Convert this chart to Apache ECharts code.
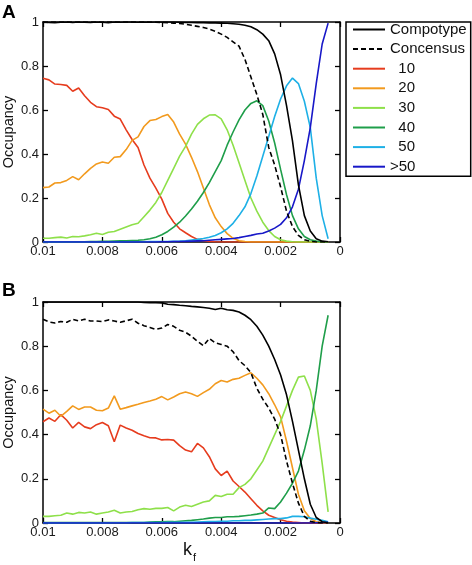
<!DOCTYPE html>
<html><head><meta charset="utf-8">
<script src="https://cdn.jsdelivr.net/npm/echarts@6/dist/echarts.min.js"></script>
<style>html,body{margin:0;padding:0;background:#fff}#c{width:472px;height:565px}</style>
</head><body><div id="c"></div>
<script>
// ---- data ----
const xs = [0.0100,0.0098,0.0096,0.0094,0.0092,0.0090,0.0088,0.0086,0.0084,0.0082,
            0.0080,0.0078,0.0076,0.0074,0.0072,0.0070,0.0068,0.0066,0.0064,0.0062,
            0.0060,0.0058,0.0056,0.0054,0.0052,0.0050,0.0048,0.0046,0.0044,0.0042,
            0.0040,0.0038,0.0036,0.0034,0.0032,0.0030,0.0028,0.0026,0.0024,0.0022,
            0.0020,0.0018,0.0016,0.0014,0.0012,0.0010,0.0008,0.0006,0.0004];
const seriesNames = ['Compotype','Concensus','10','20','30','40','50','>50'];
const xTicks = ['0.01','0.008','0.006','0.004','0.002','0'];
const yTicks = ['0','0.2','0.4','0.6','0.8','1'];

// Panel A
const A_comp = [1,0.998,0.997,0.999,1,0.998,1,0.999,0.998,1, 0.999,0.997,1,0.999,1,1,0.999,1,0.999,1,
  1,1,1,0.999,0.998,0.998,0.997,0.997,0.996,0.996, 0.995,0.994,0.992,0.99,0.985,0.978,0.965,0.945,0.915,0.855,
  0.76,0.62,0.46,0.26,0.12,0.05,0.015,0.004,0.001];
const A_cons = [1,1,1,1,1,1,1,1,1,1, 1,1,1,1,1,1,1,1,1,0.999,
  0.998,0.997,0.995,0.993,0.99,0.985,0.98,0.975,0.968,0.958, 0.945,0.93,0.91,0.89,0.83,0.75,0.67,0.58,0.43,0.35,
  0.25,0.14,0.07,0.03,0.01,0.003,0,0,0];
const A_10 = [0.744,0.737,0.718,0.716,0.712,0.685,0.700,0.665,0.635,0.615, 0.610,0.602,0.572,0.559,0.510,0.466,0.430,0.350,0.290,0.245,
  0.195,0.130,0.090,0.060,0.042,0.025,0.012,0.006,0.003,0.001, 0,0,0,0,0,0,0,0,0,0,
  0,0,0,0,0,0,0,0,0];
const A_20 = [0.247,0.250,0.268,0.270,0.280,0.297,0.283,0.310,0.335,0.355, 0.364,0.358,0.385,0.388,0.420,0.462,0.478,0.525,0.552,0.557,
  0.570,0.580,0.545,0.490,0.445,0.385,0.320,0.245,0.170,0.110, 0.070,0.038,0.017,0.006,0.002,0,0,0,0,0,
  0,0,0,0,0,0,0,0,0];
const A_30 = [0.017,0.017,0.020,0.022,0.018,0.025,0.024,0.028,0.033,0.040, 0.034,0.044,0.048,0.058,0.068,0.078,0.085,0.115,0.145,0.180,
  0.225,0.280,0.335,0.390,0.435,0.490,0.535,0.560,0.577,0.578, 0.560,0.510,0.440,0.360,0.280,0.200,0.140,0.090,0.052,0.025,
  0.010,0.004,0.001,0,0,0,0,0,0];
const A_40 = [0,0,0,0,0,0.001,0.001,0.001,0.002,0.002, 0.003,0.003,0.004,0.005,0.006,0.007,0.008,0.010,0.015,0.022,
  0.033,0.048,0.068,0.090,0.118,0.150,0.185,0.225,0.270,0.320, 0.370,0.440,0.500,0.555,0.600,0.630,0.642,0.620,0.550,0.450,
  0.330,0.215,0.120,0.060,0.025,0.010,0.004,0.001,0];
const A_50 = [0,0,0,0,0,0,0,0,0,0, 0,0,0,0,0.001,0.001,0.001,0.001,0.002,0.002,
  0.002,0.002,0.003,0.004,0.006,0.009,0.012,0.016,0.022,0.030, 0.042,0.060,0.085,0.120,0.160,0.220,0.300,0.390,0.480,0.570,
  0.650,0.710,0.745,0.720,0.640,0.520,0.290,0.120,0.015];
const A_gt50 = [0,0,0,0,0,0,0,0,0,0, 0,0,0,0,0,0,0,0,0,0,
  0.001,0.001,0.002,0.002,0.003,0.004,0.005,0.006,0.008,0.010, 0.012,0.014,0.016,0.020,0.025,0.030,0.036,0.040,0.050,0.063,
  0.080,0.110,0.160,0.240,0.370,0.520,0.720,0.900,0.995];

// Panel B
const B_comp = [1,1,1,1,1,1,1,1,1,1, 1,1,1,1,1,1,1,0.998,0.997,0.997,
  0.996,0.99,0.988,0.985,0.983,0.980,0.978,0.975,0.972,0.966, 0.972,0.965,0.962,0.955,0.940,0.920,0.890,0.850,0.800,0.740,
  0.670,0.580,0.460,0.330,0.200,0.085,0.025,0.006,0.001];
const B_cons = [0.922,0.910,0.905,0.912,0.908,0.922,0.914,0.922,0.914,0.914, 0.911,0.919,0.914,0.908,0.915,0.922,0.904,0.893,0.885,0.876,
  0.882,0.898,0.890,0.872,0.863,0.845,0.822,0.802,0.835,0.815, 0.808,0.800,0.775,0.735,0.712,0.680,0.610,0.560,0.520,0.470,
  0.400,0.280,0.180,0.090,0.030,0.008,0.002,0,0];
const B_10 = [0.458,0.475,0.460,0.490,0.465,0.430,0.455,0.435,0.427,0.445, 0.455,0.440,0.368,0.443,0.430,0.420,0.405,0.395,0.386,0.385,
  0.376,0.378,0.375,0.350,0.330,0.322,0.360,0.340,0.300,0.245, 0.215,0.235,0.190,0.165,0.140,0.110,0.080,0.055,0.035,0.025,
  0.015,0.008,0.004,0.002,0,0,0,0,0];
const B_20 = [0.515,0.497,0.510,0.483,0.505,0.530,0.514,0.525,0.525,0.510, 0.508,0.520,0.575,0.515,0.522,0.530,0.537,0.545,0.552,0.560,
  0.572,0.557,0.570,0.585,0.593,0.585,0.573,0.590,0.605,0.630, 0.645,0.638,0.650,0.655,0.668,0.680,0.655,0.625,0.585,0.535,
  0.480,0.370,0.250,0.130,0.055,0.020,0.006,0.002,0];
const B_30 = [0.030,0.030,0.033,0.035,0.045,0.040,0.048,0.045,0.050,0.040, 0.045,0.050,0.058,0.045,0.050,0.052,0.060,0.065,0.062,0.066,
  0.066,0.070,0.055,0.072,0.080,0.075,0.085,0.095,0.100,0.125, 0.120,0.130,0.130,0.160,0.175,0.200,0.240,0.280,0.340,0.400,
  0.460,0.530,0.600,0.660,0.665,0.600,0.470,0.270,0.050];
const B_40 = [0.002,0.002,0.002,0.002,0.002,0.002,0.002,0.002,0.002,0.002, 0.002,0.002,0.002,0.002,0.002,0.002,0.002,0.002,0.004,0.005,
  0.005,0.006,0.006,0.008,0.010,0.012,0.015,0.018,0.022,0.025, 0.025,0.028,0.028,0.030,0.033,0.036,0.040,0.045,0.068,0.065,
  0.095,0.135,0.180,0.235,0.330,0.440,0.600,0.800,0.940];
const B_50 = [0,0,0,0,0,0,0,0,0,0, 0,0,0.001,0.001,0.001,0.002,0.002,0.002,0.002,0.002,
  0.002,0.003,0.003,0.003,0.003,0.003,0.004,0.005,0.006,0.007, 0.008,0.008,0.010,0.010,0.012,0.012,0.014,0.016,0.018,0.020,
  0.020,0.023,0.030,0.030,0.028,0.022,0.017,0.012,0.006];
const B_gt50 = [0,0,0,0,0,0,0,0,0,0, 0,0,0,0,0,0,0,0,0,0,
  0,0,0,0,0,0,0,0,0,0, 0,0,0,0,0,0,0,0,0,0,
  0,0,0,0,0,0,0.001,0.002,0.003];

const panelA = [A_comp, A_cons, A_10, A_20, A_30, A_40, A_50, A_gt50];
const panelB = [B_comp, B_cons, B_10, B_20, B_30, B_40, B_50, B_gt50];

// ---- styles ----
const FONT = "'Liberation Sans', Arial, Helvetica, sans-serif";
const colors = ['#000000','#000000','#e63c1e','#f29a1e','#8ee04a','#1f9e4a','#1eb0e6','#1818c8'];
const dashed = [false, true, false, false, false, false, false, false];

function xAx(gi, pos, labels, name) {
  const a = {
    gridIndex: gi, type: 'value', position: pos, min: 0, max: 0.01, interval: 0.002, inverse: true,
    axisLine: {show: true, onZero: false, lineStyle: {color: '#000', width: 1.5}},
    axisTick: {show: true, inside: true, length: 5, lineStyle: {color: '#000', width: 1.3}},
    axisLabel: {show: labels, color: '#1a1a1a', fontSize: 13, fontFamily: FONT, margin: 3,
      formatter: (v) => xTicks[Math.round((0.01 - v) / 0.002)]},
    splitLine: {show: false}
  };
  if (name) {
    a.name = '{k|k}{f|f}';
    a.nameLocation = 'middle';
    a.nameGap = 18;
    a.nameTextStyle = {padding: [0, 4, 0, 0], rich: {
      k: {fontSize: 18, fontFamily: FONT, color: '#111', lineHeight: 18, verticalAlign: 'top'},
      f: {fontSize: 11, fontFamily: FONT, color: '#111', lineHeight: 11, padding: [11, 0, 0, 1], verticalAlign: 'top'}
    }};
  }
  return a;
}
function yAx(gi, pos, labels) {
  return {
    gridIndex: gi, type: 'value', position: pos, min: 0, max: 1, interval: 0.2,
    name: labels ? 'Occupancy' : '', nameLocation: 'middle', nameGap: 27, nameMoveOverlap: false,
    nameTextStyle: {fontSize: 14.5, fontFamily: FONT, color: '#111'},
    axisLine: {show: true, onZero: false, lineStyle: {color: '#000', width: 1.5}},
    axisTick: {show: true, inside: true, length: 5, lineStyle: {color: '#000', width: 1.3}},
    axisLabel: {show: labels, color: '#1a1a1a', fontSize: 13, fontFamily: FONT, margin: 4,
      formatter: (v) => yTicks[Math.round(v / 0.2)]},
    splitLine: {show: false}
  };
}

const series = [];
const order = [2, 3, 4, 5, 6, 7, 1, 0];
[panelA, panelB].forEach((panel, p) => {
  order.forEach((k) => {
    series.push({
      name: seriesNames[k], type: 'line', xAxisIndex: p * 2, yAxisIndex: p * 2,
      data: xs.map((x, i) => [x, panel[k][i]]),
      symbol: 'none', showSymbol: false, smooth: false, animation: false,
      color: colors[k],
      lineStyle: {color: colors[k], width: 1.6, type: dashed[k] ? [5, 3] : 'solid'},
      z: k < 2 ? 3 : 2
    });
  });
});

const option = {
  backgroundColor: '#fff',
  animation: false,
  grid: [
    {left: 43, top: 22, width: 297, height: 220, containLabel: false, outerBoundsMode: 'none'},
    {left: 43, top: 302, width: 297, height: 221, containLabel: false, outerBoundsMode: 'none'}
  ],
  xAxis: [xAx(0, 'bottom', true), xAx(0, 'top', false), xAx(1, 'bottom', true, true), xAx(1, 'top', false)],
  yAxis: [yAx(0, 'left', true), yAx(0, 'right', false), yAx(1, 'left', true), yAx(1, 'right', false)],
  legend: {
    data: seriesNames, orient: 'vertical', left: 346, top: 22,
    backgroundColor: '#fff', borderColor: '#000', borderWidth: 1.5, borderRadius: 0,
    padding: [0, 4, 2, 6], itemWidth: 32, itemHeight: 14, itemGap: 4.6,
    selectedMode: false,
    itemStyle: {opacity: 0},
    lineStyle: {width: 2},
    textStyle: {fontSize: 15, fontFamily: FONT, color: '#111'},
    formatter: (n) => (/^\d+$/.test(n) ? '  ' + n : n)
  },
  graphic: [
    {type: 'text', left: 2, top: 3, style: {text: 'A', font: 'bold 19px ' + FONT, fill: '#000'}},
    {type: 'text', left: 2, top: 281, style: {text: 'B', font: 'bold 19px ' + FONT, fill: '#000'}}
  ],
  series: series
};
const chart = echarts.init(document.getElementById('c'), null, {renderer: 'canvas'});
chart.setOption(option);
</script></body></html>
